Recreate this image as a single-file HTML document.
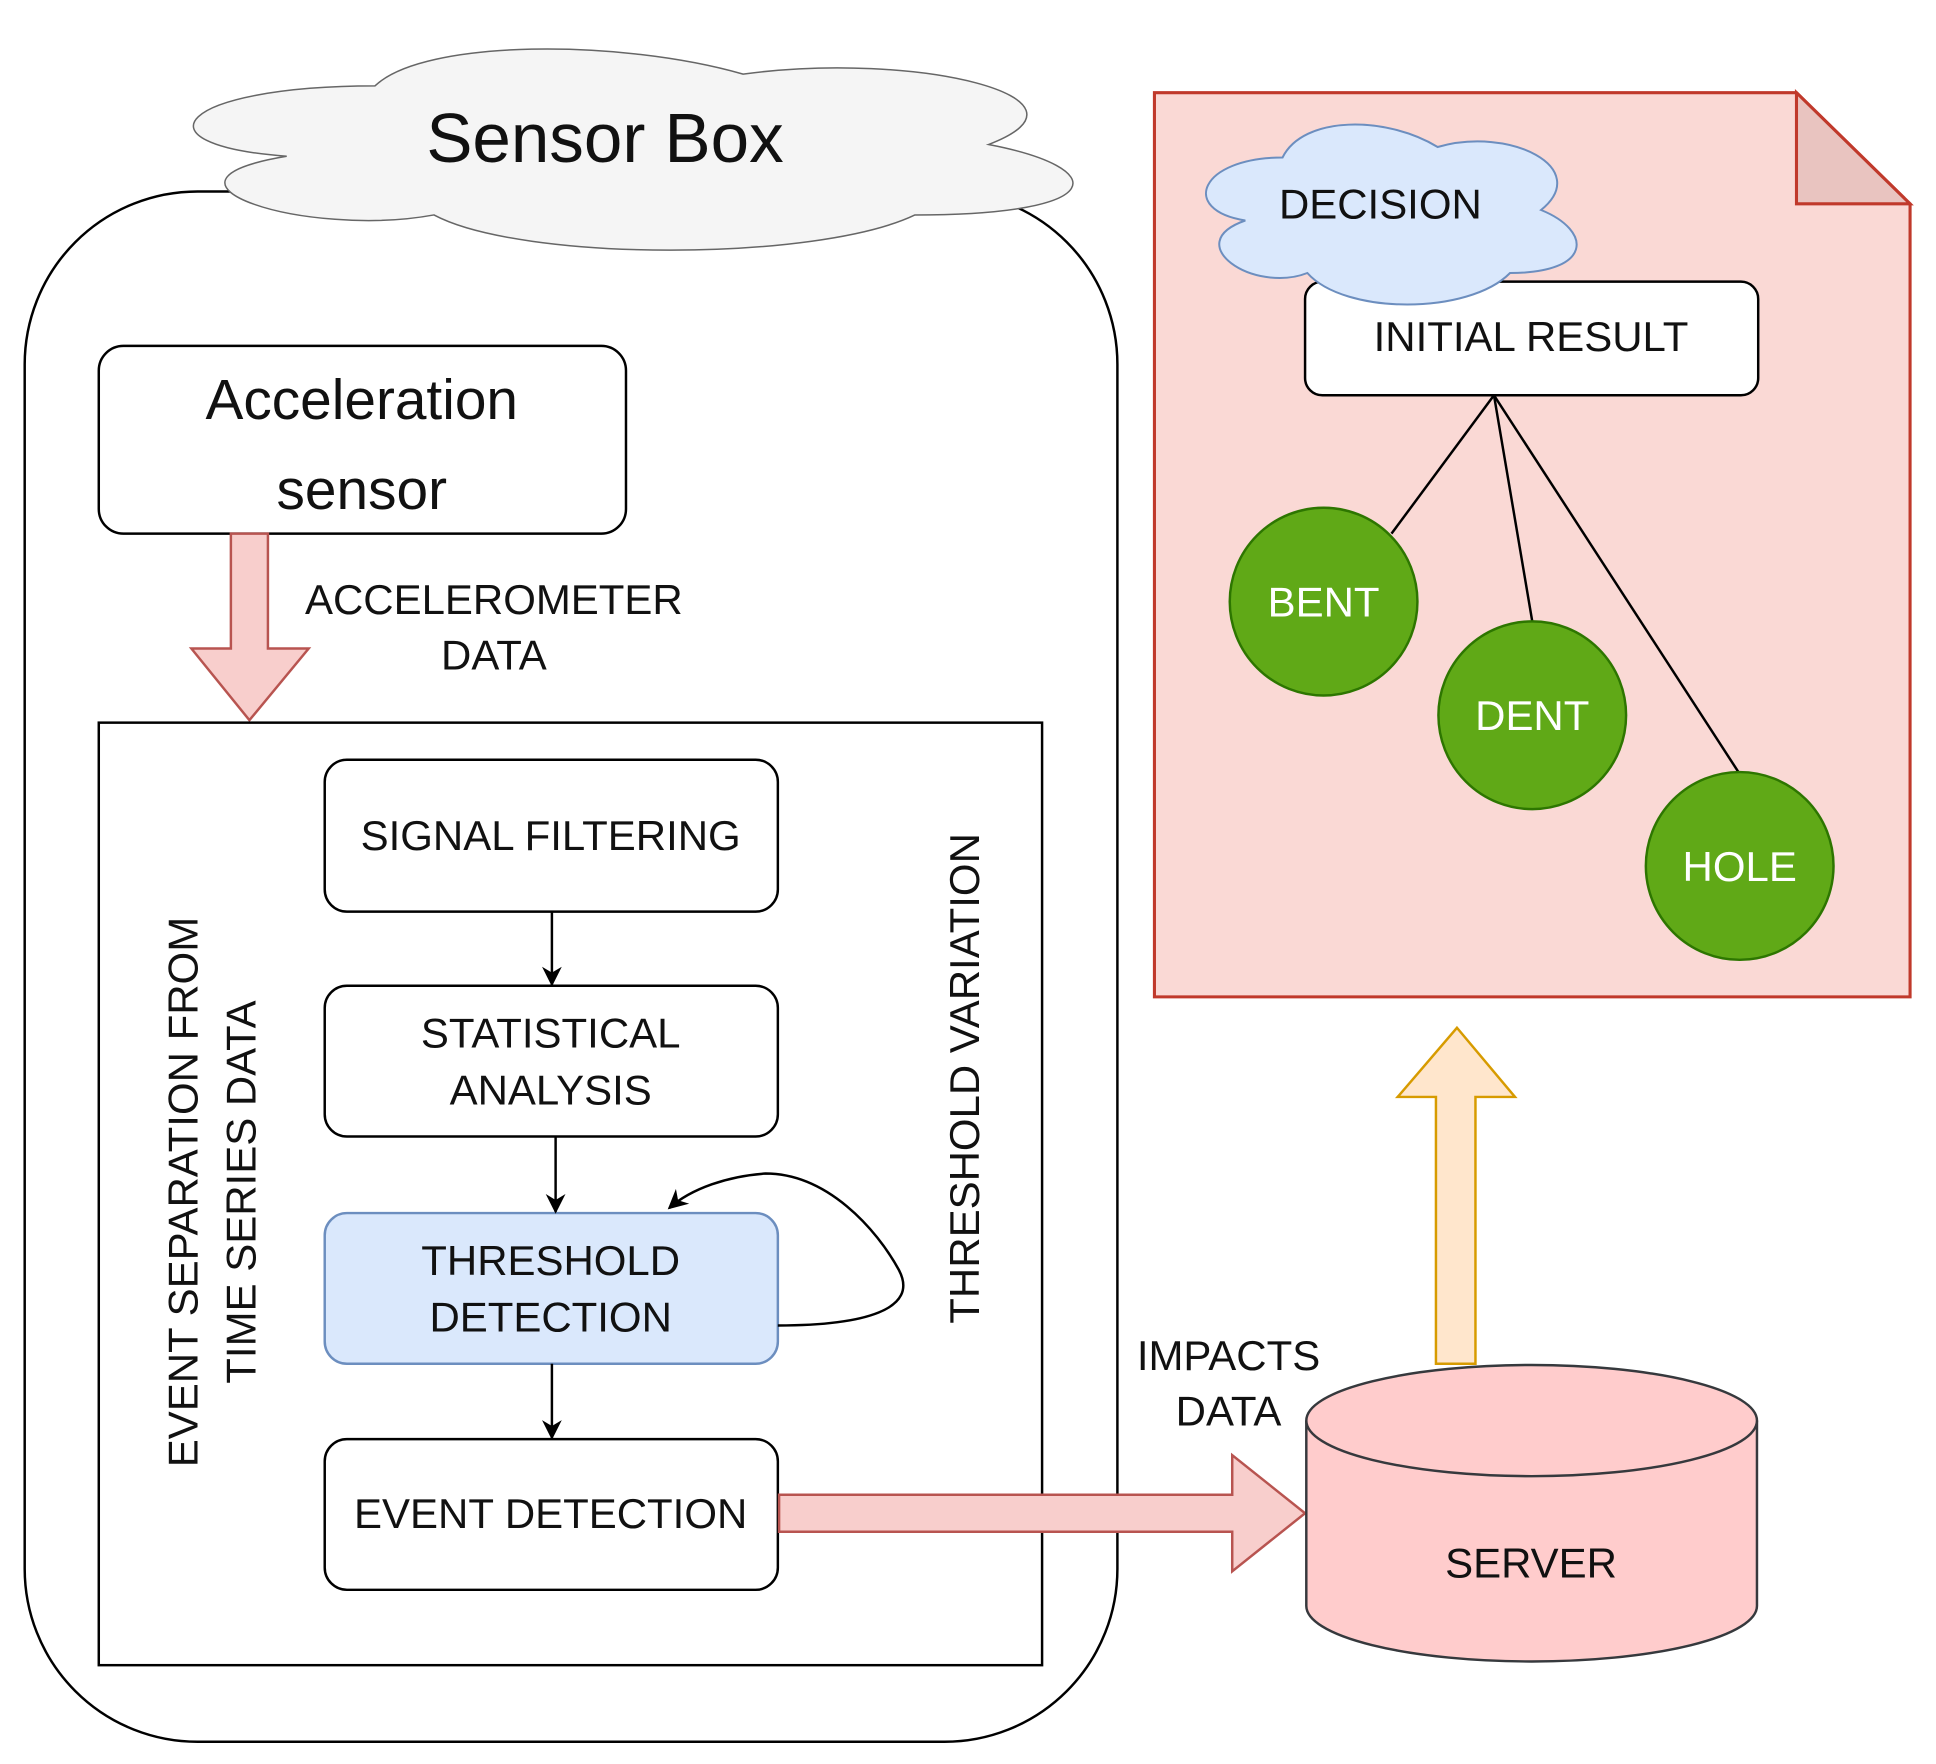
<!DOCTYPE html>
<html><head><meta charset="utf-8"><style>
html,body{margin:0;padding:0;background:#fff;}
svg{display:block;}
text{font-family:"Liberation Sans",Arial,sans-serif;fill:#111;}
</style></head><body>
<svg width="1936" height="1764" viewBox="0 0 1568 1428" preserveAspectRatio="none" xmlns="http://www.w3.org/2000/svg">
<defs>
<marker id="ah" viewBox="0 0 10 10" refX="9" refY="5" markerWidth="16" markerHeight="16" orient="auto" markerUnits="userSpaceOnUse">
<path d="M0,0 L10,5 L0,10 L3,5 Z" fill="#000"/></marker>
</defs>
<rect x="20" y="155" width="885" height="1255" rx="140" ry="140" fill="#fff" stroke="#000" stroke-width="2"/>
<g transform="translate(105,22) scale(795,190)">
<path d="M0.25,0.25 C0.05,0.25 0,0.5 0.16,0.55 C0,0.66 0.18,0.9 0.31,0.8 C0.4,1 0.7,1 0.8,0.8 C1,0.8 1,0.6 0.875,0.5 C1,0.3 0.8,0.1 0.625,0.2 C0.5,0.05 0.3,0.05 0.25,0.25 Z" fill="#f5f5f5" stroke="#666" stroke-width="1.5" vector-effect="non-scaling-stroke"/>
</g>
<text x="490" y="131" font-size="56" text-anchor="middle" fill="#333">Sensor Box</text>
<rect x="80" y="280" width="427" height="152" rx="20" fill="#fff" stroke="#000" stroke-width="2"/>
<text x="293" y="339" font-size="46" text-anchor="middle">Acceleration</text>
<text x="293" y="412" font-size="46" text-anchor="middle">sensor</text>
<path d="M187,432 L217,432 L217,525 L250,525 L202,583 L155,525 L187,525 Z" fill="#f8cecc" stroke="#b85450" stroke-width="2"/>
<text x="400" y="497" font-size="34" text-anchor="middle">ACCELEROMETER</text>
<text x="400" y="542" font-size="34" text-anchor="middle">DATA</text>
<rect x="80" y="585" width="764" height="763" fill="#fff" stroke="#000" stroke-width="2"/>
<rect x="263" y="615" width="367" height="123" rx="18" fill="#fff" stroke="#000" stroke-width="2"/>
<text x="446" y="688" font-size="34" text-anchor="middle">SIGNAL FILTERING</text>
<rect x="263" y="798" width="367" height="122" rx="18" fill="#fff" stroke="#000" stroke-width="2"/>
<text x="446" y="848" font-size="34" text-anchor="middle">STATISTICAL</text>
<text x="446" y="894" font-size="34" text-anchor="middle">ANALYSIS</text>
<rect x="263" y="982" width="367" height="122" rx="18" fill="#dae8fc" stroke="#6c8ebf" stroke-width="2"/>
<text x="446" y="1032" font-size="34" text-anchor="middle">THRESHOLD</text>
<text x="446" y="1078" font-size="34" text-anchor="middle">DETECTION</text>
<rect x="263" y="1165" width="367" height="122" rx="18" fill="#fff" stroke="#000" stroke-width="2"/>
<text x="446" y="1237" font-size="34" text-anchor="middle">EVENT DETECTION</text>
<line x1="447" y1="738" x2="447" y2="797" stroke="#000" stroke-width="2" marker-end="url(#ah)"/>
<line x1="450" y1="920" x2="450" y2="981" stroke="#000" stroke-width="2" marker-end="url(#ah)"/>
<line x1="447" y1="1104" x2="447" y2="1164" stroke="#000" stroke-width="2" marker-end="url(#ah)"/>
<path d="M630,1073 C700,1073 745,1060 728,1028 C710,995 670,950 620,950 C590,952 560,962 542,978" fill="none" stroke="#000" stroke-width="2" marker-end="url(#ah)"/>
<text transform="translate(160,965) rotate(-90)" font-size="34" text-anchor="middle">EVENT SEPARATION FROM</text>
<text transform="translate(207,965) rotate(-90)" font-size="34" text-anchor="middle">TIME SERIES DATA</text>
<text transform="translate(793,873) rotate(-90)" font-size="34" text-anchor="middle">THRESHOLD VARIATION</text>
<path d="M631,1210 L998,1210 L998,1178 L1057,1225 L998,1272 L998,1240 L631,1240 Z" fill="#f8cecc" stroke="#b85450" stroke-width="2"/>
<text x="995" y="1109" font-size="34" text-anchor="middle">IMPACTS</text>
<text x="995" y="1154" font-size="34" text-anchor="middle">DATA</text>
<path d="M1058,1150 L1058,1300 A182.5,45 0 0 0 1423,1300 L1423,1150" fill="#ffcccc" stroke="#36393d" stroke-width="2"/>
<ellipse cx="1240.5" cy="1150" rx="182.5" ry="45" fill="#ffcccc" stroke="#36393d" stroke-width="2"/>
<text x="1240" y="1277" font-size="34" text-anchor="middle">SERVER</text>
<path d="M1163,1104 L1163,888 L1132,888 L1180,832 L1227,888 L1195,888 L1195,1104 Z" fill="#ffe6cc" stroke="#d79b00" stroke-width="2"/>
<path d="M935,75 L1455,75 L1547,165 L1547,807 L935,807 Z" fill="#fad9d5" stroke="#c0392b" stroke-width="2.5"/>
<path d="M1455,75 L1455,165 L1547,165 Z" fill="#e9c4c0" stroke="#c0392b" stroke-width="2.5"/>
<rect x="1057" y="228" width="367" height="92" rx="14" fill="#fff" stroke="#000" stroke-width="2"/>
<text x="1240" y="284" font-size="34" text-anchor="middle">INITIAL RESULT</text>
<g transform="translate(955,85) scale(335,170)">
<path d="M0.25,0.25 C0.05,0.25 0,0.5 0.16,0.55 C0,0.66 0.18,0.9 0.31,0.8 C0.4,1 0.7,1 0.8,0.8 C1,0.8 1,0.6 0.875,0.5 C1,0.3 0.8,0.1 0.625,0.2 C0.5,0.05 0.3,0.05 0.25,0.25 Z" fill="#dae8fc" stroke="#6c8ebf" stroke-width="2" vector-effect="non-scaling-stroke"/>
</g>
<text x="1118" y="177" font-size="34" text-anchor="middle">DECISION</text>
<line x1="1210" y1="320" x2="1127" y2="432" stroke="#000" stroke-width="2"/>
<line x1="1210" y1="320" x2="1241" y2="503" stroke="#000" stroke-width="2"/>
<line x1="1210" y1="320" x2="1408" y2="625" stroke="#000" stroke-width="2"/>
<circle cx="1072" cy="487" r="76" fill="#60a917" stroke="#2d7600" stroke-width="2"/>
<circle cx="1241" cy="579" r="76" fill="#60a917" stroke="#2d7600" stroke-width="2"/>
<circle cx="1409" cy="701" r="76" fill="#60a917" stroke="#2d7600" stroke-width="2"/>
<text x="1072" y="499" font-size="34" text-anchor="middle" style="fill:#fff">BENT</text>
<text x="1241" y="591" font-size="34" text-anchor="middle" style="fill:#fff">DENT</text>
<text x="1409" y="713" font-size="34" text-anchor="middle" style="fill:#fff">HOLE</text>
</svg>
</body></html>
